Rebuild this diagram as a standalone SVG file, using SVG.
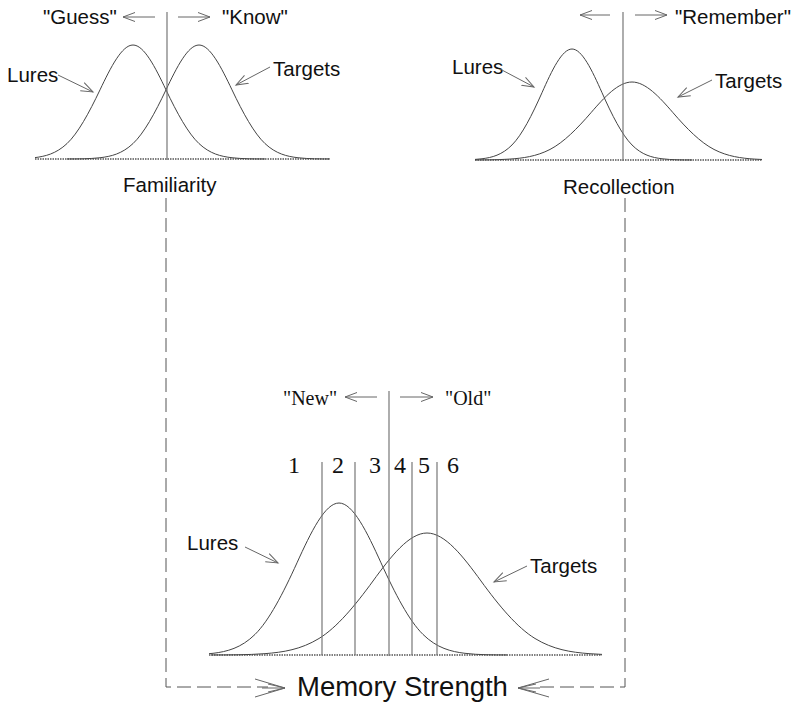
<svg xmlns="http://www.w3.org/2000/svg" xmlns:xlink="http://www.w3.org/1999/xlink" width="800" height="711" viewBox="0 0 800 711">
<style>
.bg{fill:#ffffff}
.curve{fill:none;stroke:#444;stroke-width:1}
.base{stroke:#555;stroke-width:1.3;stroke-dasharray:1.5,1}
.crit{stroke:#777;stroke-width:1.2}
.arr{stroke:#666;stroke-width:1;fill:none}
.dash{stroke:#555;stroke-width:1;fill:none;stroke-dasharray:14,6}
.sans{font-family:"Liberation Sans",Arial,sans-serif;fill:#111}
.serif{font-family:"Liberation Serif","Times New Roman",serif;fill:#111}
</style>
<defs>
<path id="g" vector-effect="non-scaling-stroke" d="M-4,0.0003 C-3.667,0.0008 -3.333,0 -3,0.0111 C-2.667,0.0222 -2.333,0.0451 -2,0.1353 C-1.667,0.2255 -1.333,0.4043 -1,0.6065 C-0.667,0.8087 -0.333,1 0,1 C0.333,1 0.667,0.8087 1,0.6065 C1.333,0.4043 1.667,0.2255 2,0.1353 C2.333,0.0451 2.667,0.0222 3,0.0111 C3.333,0 3.667,0.0008 4,0.0003"/>
<marker id="ah" markerUnits="userSpaceOnUse" markerWidth="14" markerHeight="12" refX="12" refY="6" orient="auto">
<path d="M0,1.5 L12,6 L0,10.5" fill="none" stroke="#666" stroke-width="1"/>
</marker>
<clipPath id="c1"><rect x="35" y="0" width="295" height="162"/></clipPath>
<clipPath id="c2"><rect x="475" y="0" width="287" height="163"/></clipPath>
<clipPath id="c3"><rect x="209" y="400" width="393" height="258"/></clipPath>
</defs>
<rect class="bg" x="0" y="0" width="800" height="711"/>

<g id="familiarity-panel">
<line class="base" x1="35" y1="159" x2="330" y2="159"/>
<g clip-path="url(#c1)">
<use xlink:href="#g" class="curve" transform="translate(133,159) scale(33,-114)"/>
<use xlink:href="#g" class="curve" transform="translate(199,159) scale(33,-114)"/>
</g>
<line class="crit" x1="167" y1="12" x2="167" y2="160"/>
<line class="arr" x1="155" y1="17" x2="123" y2="17" marker-end="url(#ah)"/>
<line class="arr" x1="178" y1="17" x2="210" y2="17" marker-end="url(#ah)"/>
<text class="sans" x="43" y="24" font-size="20.5">"Guess"</text>
<text class="sans" x="222" y="24" font-size="20.5">"Know"</text>
<text class="sans" x="7" y="82" font-size="20.5">Lures</text>
<line class="arr" x1="58" y1="75" x2="93" y2="92" marker-end="url(#ah)"/>
<text class="sans" x="273" y="76" font-size="20.5">Targets</text>
<line class="arr" x1="270" y1="67" x2="236" y2="85" marker-end="url(#ah)"/>
<text class="sans" x="123" y="192" font-size="20.5">Familiarity</text>
</g>

<g id="recollection-panel">
<line class="base" x1="475" y1="160" x2="762" y2="160"/>
<g clip-path="url(#c2)">
<use xlink:href="#g" class="curve" transform="translate(572,160) scale(30,-111)"/>
<use xlink:href="#g" class="curve" transform="translate(632,160) scale(41,-78)"/>
</g>
<line class="crit" x1="623" y1="12" x2="623" y2="161"/>
<line class="arr" x1="610" y1="15" x2="580" y2="15" marker-end="url(#ah)"/>
<line class="arr" x1="635" y1="15" x2="667" y2="15" marker-end="url(#ah)"/>
<text class="sans" x="675" y="24" font-size="20.5">"Remember"</text>
<text class="sans" x="452" y="74" font-size="20.5">Lures</text>
<line class="arr" x1="500" y1="69" x2="534" y2="87" marker-end="url(#ah)"/>
<text class="sans" x="715" y="88" font-size="20.5">Targets</text>
<line class="arr" x1="712" y1="80" x2="678" y2="97" marker-end="url(#ah)"/>
<text class="sans" x="563" y="194" font-size="20.5">Recollection</text>
</g>

<g id="memory-panel">
<line class="base" x1="209" y1="655" x2="602" y2="655"/>
<g clip-path="url(#c3)">
<use xlink:href="#g" class="curve" transform="translate(339,655) scale(42,-152)"/>
<use xlink:href="#g" class="curve" transform="translate(427,655) scale(54,-122)"/>
</g>
<line class="crit" x1="389" y1="391" x2="389" y2="656"/>
<line class="crit" x1="322" y1="462" x2="322" y2="655"/>
<line class="crit" x1="355" y1="462" x2="355" y2="655"/>
<line class="crit" x1="412" y1="462" x2="412" y2="655"/>
<line class="crit" x1="437" y1="462" x2="437" y2="655"/>
<line class="arr" x1="377" y1="397" x2="345" y2="397" marker-end="url(#ah)"/>
<line class="arr" x1="400" y1="397" x2="433" y2="397" marker-end="url(#ah)"/>
<text class="serif" x="283" y="405" font-size="20">"New"</text>
<text class="serif" x="445" y="405" font-size="20">"Old"</text>
<g class="serif" font-size="24" text-anchor="middle">
<text x="294" y="473">1</text>
<text x="338" y="473">2</text>
<text x="375" y="473">3</text>
<text x="400" y="473">4</text>
<text x="424" y="473">5</text>
<text x="453" y="473">6</text>
</g>
<text class="sans" x="187" y="550" font-size="20.5">Lures</text>
<line class="arr" x1="245" y1="547" x2="278" y2="563" marker-end="url(#ah)"/>
<text class="sans" x="530" y="573" font-size="20.5">Targets</text>
<line class="arr" x1="527" y1="566" x2="494" y2="582" marker-end="url(#ah)"/>
<text class="sans" x="297" y="696" font-size="27.5">Memory Strength</text>
</g>

<g id="connectors">
<polyline class="dash" points="166,198 166,687 268,687"/>
<polyline class="dash" points="625,198 625,687 538,687"/>
<path class="arr" d="M255,679 L285,688 L255,697 M268,684 L285,688 L268,692 M262,688 L285,688"/>
<path class="arr" d="M549,679 L518,688 L549,697 M536,684 L518,688 L536,692 M540,688 L518,688"/>
</g>
</svg>
